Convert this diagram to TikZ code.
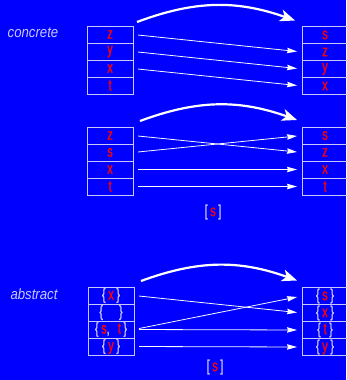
\documentclass[tikz,border=0pt]{standalone}
\usepackage{fontspec}
\setmainfont{Liberation Sans}
\newfontfamily\cellfont[FakeStretch=0.68,FakeBold=1.2]{Liberation Sans}
\newfontfamily\tagfont[FakeStretch=0.88]{Liberation Sans}
\usetikzlibrary{arrows.meta}
\definecolor{bg}{RGB}{0,0,255}
\definecolor{lav}{RGB}{200,200,255}
\newcommand{\br}[1]{\textcolor{lav}{#1}}

\begin{document}
\begin{tikzpicture}[x=1pt, y=-1pt,
    cell/.style={draw=lav, line width=0.9pt, minimum width=46pt, minimum height=17pt,
      inner sep=0pt, outer sep=0pt, text=red, font=\cellfont\fontsize{16}{16}\selectfont},
    tag/.style={text=lav, font=\tagfont\itshape\fontsize{15}{15}\selectfont},
    arr/.style={draw=white!92!lav, line width=0.8pt, -{Stealth[length=10pt,width=5.5pt,inset=1pt]},
      shorten <=5pt, shorten >=5pt},
    bigarr/.style={draw=white, line width=2.2pt, -{Stealth[length=15pt,width=12pt,inset=4pt]}}]
  \path[use as bounding box, fill=bg] (0,0) rectangle (346,380);

  % concrete
  \node[tag] (conc) at (33, 33) {concrete};
  \node[cell] (p1z) at (110, 34.5) {z};
  \node[cell] (p1y) at (110, 51.5) {y};
  \node[cell] (p1x) at (110, 68.5) {x};
  \node[cell] (p1t) at (110, 85.5) {t};
  \node[cell] (q1s) at (325, 35) {s};
  \node[cell] (q1z) at (325, 52) {z};
  \node[cell] (q1y) at (325, 69) {y};
  \node[cell] (q1x) at (325, 86) {x};
  \draw[bigarr] ([xshift=4pt, yshift=4pt]p1z.north east) to[bend left=20] ([xshift=-7pt, yshift=6pt]q1s.north west);
  \draw[arr] (p1z.east) -- (q1z.west);
  \draw[arr] (p1y.east) -- (q1y.west);
  \draw[arr] (p1x.east) -- (q1x.west);

  \node[cell] (p2z) at (110, 135.5) {z};
  \node[cell] (p2s) at (110, 152.5) {s};
  \node[cell] (p2x) at (110, 169.5) {x};
  \node[cell] (p2t) at (110, 186.5) {t};
  \node[cell] (q2s) at (325, 135.5) {s};
  \node[cell] (q2z) at (325, 152.5) {z};
  \node[cell] (q2x) at (325, 169.5) {x};
  \node[cell] (q2t) at (325, 186.5) {t};
  \draw[bigarr] ([xshift=7pt, yshift=6pt]p2z.north east) to[bend left=20] ([xshift=-5pt, yshift=7pt]q2s.north west);
  \draw[arr] (p2z.east) -- (q2z.west);
  \draw[arr] (p2s.east) -- (q2s.west);
  \draw[arr] (p2x.east) -- (q2x.west);
  \draw[arr] (p2t.east) -- (q2t.west);
  \node[text=red, font=\cellfont\fontsize{16}{16}\selectfont] (sub1) at (213, 212) {\br{[}\,s\,\br{]}};

  % abstract
  \node[tag] (abst) at (34, 294) {abstract};
  \node[cell] (p3x) at (111, 295.5) {\br{\{}\,x\,\br{\}}};
  \node[cell] (p3e) at (111, 312.5) {\br{\{\quad\}}};
  \node[cell] (p3st) at (111, 329.5) {\br{\{}\,s\br{,}\enspace t\,\br{\}}};
  \node[cell] (p3y) at (111, 346.5) {\br{\{}\,y\,\br{\}}};
  \node[cell] (q3s) at (325, 296) {\br{\{}\,s\,\br{\}}};
  \node[cell] (q3x) at (325, 313) {\br{\{}\,x\,\br{\}}};
  \node[cell] (q3t) at (325, 330) {\br{\{}\,t\,\br{\}}};
  \node[cell] (q3y) at (325, 347) {\br{\{}\,y\,\br{\}}};
  \draw[bigarr] ([xshift=7pt, yshift=6pt]p3x.north east) to[bend left=20] ([xshift=-5pt, yshift=7pt]q3s.north west);
  \draw[arr] (p3x.east) -- (q3x.west);
  \draw[arr] (p3st.east) -- (q3s.west);
  \draw[arr] (p3st.east) -- (q3t.west);
  \draw[arr] (p3y.east) -- (q3y.west);
  \node[text=red, font=\cellfont\fontsize{16}{16}\selectfont] (sub2) at (215, 367) {\br{[}\,s\,\br{]}};
\end{tikzpicture}
\end{document}
